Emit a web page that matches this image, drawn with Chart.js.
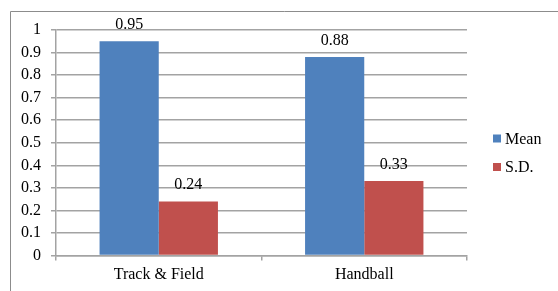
<!DOCTYPE html>
<html>
<head>
<meta charset="utf-8">
<script src="https://cdn.jsdelivr.net/npm/chart.js@4/dist/chart.umd.min.js"></script>
<style>
  html, body { margin: 0; padding: 0; background: #fff; }
  #wrap { width: 558px; height: 291px; position: relative; }
  .fontprobe { font-family: "Liberation Serif"; position: absolute; left: -9999px; }
</style>
</head>
<body>
<span class="fontprobe">Track &amp; Field 0.95 Mean</span>
<div id="wrap"><canvas id="c" width="558" height="291"></canvas></div>
<script>
const categories = ["Track & Field", "Handball"];
const seriesNames = ["Mean", "S.D."];
const meanValues = [0.95, 0.88];
const sdValues = [0.24, 0.33];
const yTickLabels = ["0", "0.1", "0.2", "0.3", "0.4", "0.5", "0.6", "0.7", "0.8", "0.9", "1"];

const FONT = '"Liberation Serif", "Times New Roman", serif';
const GRID = '#a3a3a3';
const COLORS = ['#4f81bd', '#c0504d'];

const outerBorder = {
  id: 'outerBorder',
  beforeDraw(chart) {
    const ctx = chart.ctx;
    ctx.save();
    ctx.strokeStyle = '#8c8c8c';
    ctx.lineWidth = 1;
    ctx.beginPath();
    ctx.moveTo(10.5, 291);
    ctx.lineTo(10.5, 11.5);
    ctx.lineTo(558, 11.5);
    ctx.stroke();
    ctx.restore();
  }
};

const dataLabels = {
  id: 'dataLabels',
  afterDatasetsDraw(chart) {
    const ctx = chart.ctx;
    ctx.save();
    ctx.font = '16px ' + FONT;
    ctx.fillStyle = '#000';
    ctx.textAlign = 'center';
    ctx.textBaseline = 'alphabetic';
    chart.data.datasets.forEach((ds, i) => {
      const meta = chart.getDatasetMeta(i);
      meta.data.forEach((bar, j) => {
        ctx.fillText(String(ds.data[j]), bar.x, bar.y - 12);
      });
    });
    ctx.restore();
  }
};

const customLegend = {
  id: 'customLegend',
  afterDraw(chart) {
    const ctx = chart.ctx;
    ctx.save();
    ctx.font = '16px ' + FONT;
    ctx.textAlign = 'left';
    ctx.textBaseline = 'middle';
    const x = 493, y0 = 138.5, step = 28.5;
    chart.data.datasets.forEach((ds, i) => {
      const cy = y0 + i * step;
      ctx.fillStyle = ds.backgroundColor;
      ctx.fillRect(x, cy - 4, 8, 8);
      ctx.fillStyle = '#000';
      ctx.fillText(ds.label, x + 12, cy + 1);
    });
    ctx.restore();
  }
};

function draw() {
  new Chart(document.getElementById('c'), {
    type: 'bar',
    data: {
      labels: categories,
      datasets: [
        { label: seriesNames[0], data: meanValues, backgroundColor: COLORS[0] },
        { label: seriesNames[1], data: sdValues, backgroundColor: COLORS[1] }
      ]
    },
    options: {
      responsive: false,
      animation: false,
      devicePixelRatio: 1,
      categoryPercentage: 0.576,
      barPercentage: 1,
      layout: { padding: { top: 30, right: 91, left: 0, bottom: 0 } },
      plugins: { legend: { display: false }, tooltip: { enabled: false } },
      scales: {
        x: {
          afterFit(s) { s.height = 35.5; },
          grid: { drawOnChartArea: false, drawTicks: true, tickLength: 5, color: GRID, lineWidth: 1.5 },
          border: { color: GRID, width: 1.5 },
          ticks: { font: { family: FONT, size: 16 }, color: '#000', padding: 5 }
        },
        y: {
          min: 0, max: 1,
          afterFit(s) { s.width = 56; },
          grid: { color: GRID, lineWidth: 1.5, tickLength: 5 },
          border: { color: GRID, width: 1.5 },
          ticks: {
            stepSize: 0.1,
            font: { family: FONT, size: 16 },
            color: '#000',
            padding: 10,
            callback(v, i) { return yTickLabels[i]; }
          }
        }
      }
    },
    plugins: [outerBorder, dataLabels, customLegend]
  });
}

if (document.fonts && document.fonts.load) {
  document.fonts.load('16px "Liberation Serif"').then(draw, draw);
} else {
  draw();
}
</script>
</body>
</html>
